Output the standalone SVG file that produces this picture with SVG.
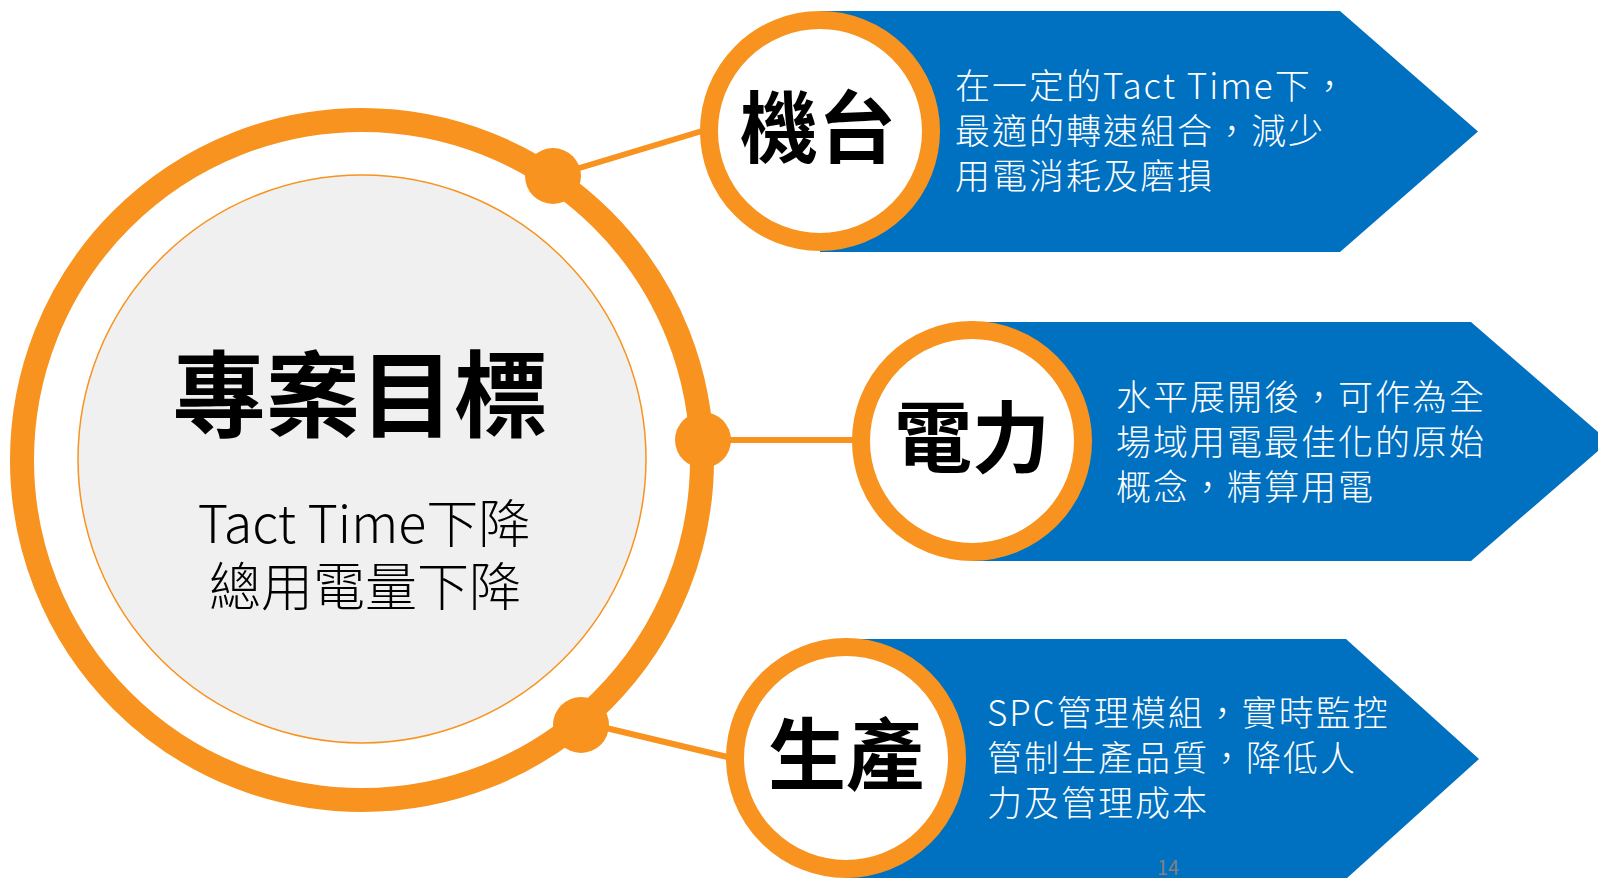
<svg xmlns="http://www.w3.org/2000/svg" width="1598" height="878" viewBox="0 0 1598 878">
  <style>
    .cjk { font-family: "Noto Sans CJK TC", "Noto Sans CJK SC", sans-serif; }
    .arrow { fill: #0070C0; }
    .ring { fill: #FFFFFF; stroke: #F7931E; stroke-width: 18; }
    .title { font-weight: 700; fill: #000000; text-anchor: middle; }
    .desc { fill: #FFFFFF; font-size: 35px; font-weight: 300; letter-spacing: 2px; }
    .conn { stroke: #F7931E; stroke-width: 6; fill: none; }
    .dot { fill: #F7931E; }
  </style>
  <rect width="1598" height="878" fill="#FFFFFF"/>

  <g id="center">
    <circle cx="362" cy="460" r="340" fill="none" stroke="#F7931E" stroke-width="24"/>
    <circle cx="362" cy="459" r="284" fill="#F0F0F0" stroke="#F7931E" stroke-width="1.5"/>
    <text class="cjk title" x="360" y="430" font-size="94">專案目標</text>
    <text class="cjk" x="364" y="543" font-size="52" font-weight="300" text-anchor="middle" fill="#000000">Tact Time下降</text>
    <text class="cjk" x="365" y="606" font-size="52" font-weight="300" text-anchor="middle" fill="#000000">總用電量下降</text>
  </g>

  <g id="connectors">
    <line class="conn" x1="553" y1="176" x2="712" y2="128"/>
    <line class="conn" x1="703" y1="440" x2="865" y2="440"/>
    <line class="conn" x1="581" y1="722" x2="740" y2="760"/>
    <circle class="dot" cx="553" cy="176" r="28"/>
    <circle class="dot" cx="703" cy="440" r="28"/>
    <circle class="dot" cx="581" cy="725" r="28"/>
  </g>

  <g id="node-machine">
    <polygon class="arrow" points="820,11 1340,11 1478,131.5 1340,252 820,252"/>
    <circle class="ring" cx="820" cy="131" r="111"/>
    <text class="cjk title" x="818" y="157" font-size="78">機台</text>
    <text class="cjk desc" x="955" y="99">在一定的Tact Time下，</text>
    <text class="cjk desc" x="955" y="144">最適的轉速組合，減少</text>
    <text class="cjk desc" x="955" y="189">用電消耗及磨損</text>
  </g>

  <g id="node-power">
    <polygon class="arrow" points="972,322 1471,322 1609,441.5 1471,561 972,561"/>
    <circle class="ring" cx="972" cy="441" r="111"/>
    <text class="cjk title" x="972" y="467" font-size="78">電力</text>
    <text class="cjk desc" x="1116" y="410">水平展開後，可作為全</text>
    <text class="cjk desc" x="1116" y="455">場域用電最佳化的原始</text>
    <text class="cjk desc" x="1116" y="500">概念，精算用電</text>
  </g>

  <g id="node-production">
    <polygon class="arrow" points="846,639 1346,639 1479,759 1346,879 846,879"/>
    <circle class="ring" cx="846" cy="758" r="111"/>
    <text class="cjk title" x="846" y="784" font-size="78">生產</text>
    <text class="cjk desc" x="987" y="726">SPC管理模組，實時監控</text>
    <text class="cjk desc" x="987" y="771">管制生產品質，降低人</text>
    <text class="cjk desc" x="987" y="816">力及管理成本</text>
  </g>

  <g id="page-number">
    <text class="cjk" x="1168" y="875" font-size="20" text-anchor="middle" fill="#808080">14</text>
  </g>
</svg>
